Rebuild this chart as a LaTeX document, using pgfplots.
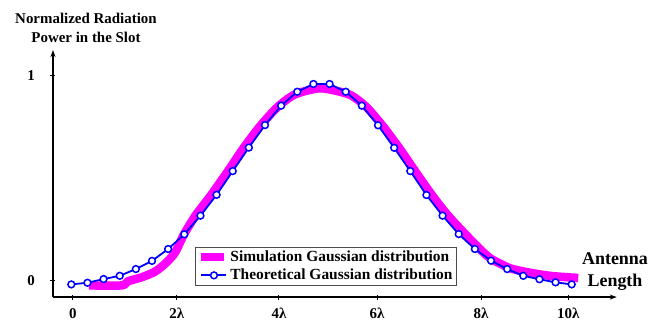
\documentclass[border=0pt]{standalone}
\usepackage{fontspec}
\setmainfont{Liberation Serif}
\usepackage{pgfplots}
\pgfplotsset{compat=1.18}
\usetikzlibrary{arrows.meta}
\definecolor{mag}{RGB}{255,0,255}
\definecolor{blu}{RGB}{0,0,255}
\begin{document}
\begin{tikzpicture}[x=1bp,y=1bp]
\useasboundingbox (0,0) rectangle (648,322);
\begin{axis}[
  at={(71.3bp,41.5bp)}, anchor=origin,
  x=50.04bp, y=204.5bp,
  xmin=-0.366, xmax=10.9, ymin=-0.081, ymax=1.127,
  axis lines=left,
  axis line style={line width=1.2bp, black},
  x axis line style={-{Stealth[length=7bp,width=5bp]}},
  y axis line style={-{Stealth[length=7bp,width=5bp]}},
  xtick={0.03,2.11,4.15,6.11,8.19,9.93},
  xticklabels={0,2λ,4λ,6λ,8λ,10λ},
  ytick={0,1}, yticklabels={0,1},
  tick align=center, major tick length=5bp,
  tick style={line width=1bp, black},
  xticklabel style={font=\bfseries\fontsize{15}{17}\selectfont, yshift=-5bp},
  yticklabel style={font=\bfseries\fontsize{15}{17}\selectfont, xshift=-12bp},
  clip=false,
  legend style={at={(0.252,0.204)}, anchor=north west, draw=black!70, line width=0.8bp,
    font=\bfseries\fontsize{15.5}{18}\selectfont, inner xsep=2bp, inner ysep=2bp, row sep=2bp,
    cells={anchor=west}},
  legend cell align=left,
]
\addplot[mag, line width=8.5bp, line join=round, line cap=butt, smooth, tension=0.4,
  legend image code/.code={\draw[mag, line width=8bp] (0bp,0bp) -- (23bp,0bp);}]
coordinates {
(0.35,-0.024)(1.01,-0.024)(1.13,-0.004)(1.41,0.016)(1.67,0.043)(1.87,0.081)(2.07,0.135)
(2.25,0.225)(2.48,0.317)(2.80,0.42)(3.13,0.535)(3.45,0.651)(3.78,0.757)(4.12,0.848)(4.47,0.91)
(4.98,0.94)(5.55,0.91)(5.89,0.85)(6.22,0.757)(6.55,0.649)(6.87,0.535)(7.20,0.42)(7.52,0.32)
(7.84,0.235)(8.10,0.17)(8.37,0.109)(8.77,0.06)(9.17,0.038)(9.56,0.023)(9.97,0.015)(10.13,0.012)
};
\addlegendentry{Simulation Gaussian distribution}
\addplot[blu, line width=1.8bp, mark=*, mark size=3.4bp,
  mark options={fill=white, draw=blu, line width=1.5bp},
  legend image code/.code={\draw[blu, line width=1.8bp] (0bp,0bp) -- (25bp,0bp);
    \draw[blu, fill=white, line width=1.5bp] (12.5bp,0bp) circle (3.4bp);}]
coordinates {
(0,-0.019)(0.323,-0.011)(0.645,0.007)(0.968,0.023)(1.290,0.056)(1.613,0.096)(1.935,0.154)
(2.258,0.226)(2.581,0.317)(2.903,0.419)(3.226,0.535)(3.548,0.650)(3.871,0.760)(4.194,0.855)
(4.516,0.923)(4.839,0.961)(5.161,0.961)(5.484,0.923)(5.806,0.855)(6.129,0.759)(6.452,0.649)
(6.774,0.535)(7.097,0.418)(7.419,0.317)(7.742,0.227)(8.065,0.154)(8.387,0.097)(8.710,0.056)
(9.032,0.023)(9.355,0.006)(9.677,-0.009)(10.0,-0.019)
};
\addlegendentry{Theoretical Gaussian distribution}
\end{axis}
\node[align=center, font=\bfseries\fontsize{15}{19}\selectfont] at (86,294.5)
  {Normalized Radiation\\Power in the Slot};
\node[align=center, font=\bfseries\fontsize{18}{22}\selectfont] at (615,50)
  {Antenna\\Length};
\end{tikzpicture}
\end{document}
